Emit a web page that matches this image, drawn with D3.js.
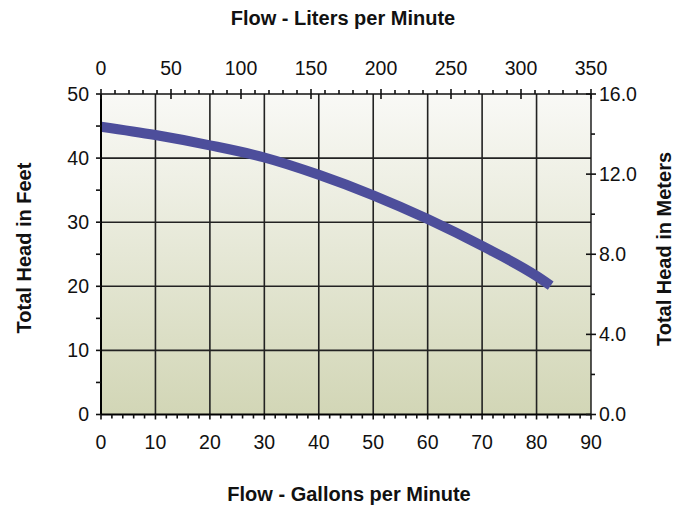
<!DOCTYPE html>
<html>
<head>
<meta charset="utf-8">
<script src="https://cdn.jsdelivr.net/npm/d3@7"></script>
<style>
  html, body { margin: 0; padding: 0; background: #ffffff; }
  svg text { font-family: "Liberation Sans", Helvetica, Arial, sans-serif; fill: #111; }
</style>
</head>
<body>
<svg id="chart" width="686" height="506"></svg>
<script>
// Pump performance curve: head vs flow
const flowGpm = [0, 10, 20, 30, 40, 50, 60, 70, 80, 82.6];
const headFeet = [44.9, 43.6, 42.0, 40.1, 37.4, 34.2, 30.5, 26.3, 21.6, 20.1];

const gpmTicks = [0, 10, 20, 30, 40, 50, 60, 70, 80, 90];
const lpmTicks = [0, 50, 100, 150, 200, 250, 300, 350];
const feetTicks = [0, 10, 20, 30, 40, 50];
const meterTicks = [0, 4, 8, 12, 16];

const svg = d3.select("#chart");
const plotLeft = 101, plotRight = 591, plotTop = 94, plotBottom = 414.5;

const x = d3.scaleLinear().domain([0, 90]).range([plotLeft, plotRight]);
const xTop = d3.scaleLinear().domain([0, 350]).range([plotLeft, plotRight]);
const y = d3.scaleLinear().domain([0, 50]).range([plotBottom, plotTop]);
const yRight = d3.scaleLinear().domain([0, 16]).range([plotBottom, plotTop]);

// background gradient
const defs = svg.append("defs");
const grad = defs.append("linearGradient").attr("id", "bg")
  .attr("x1", 0).attr("y1", 0).attr("x2", 0).attr("y2", 1);
grad.append("stop").attr("offset", "0%").attr("stop-color", "#f9f9f6");
grad.append("stop").attr("offset", "100%").attr("stop-color", "#d2d6b6");

svg.append("rect")
  .attr("x", plotLeft).attr("y", plotTop)
  .attr("width", plotRight - plotLeft).attr("height", plotBottom - plotTop)
  .attr("fill", "url(#bg)");

// grid
const grid = svg.append("g").attr("stroke", "#222").attr("stroke-width", 1.6);
grid.selectAll("line.v").data(gpmTicks.slice(1, -1)).join("line")
  .attr("x1", d => x(d)).attr("x2", d => x(d))
  .attr("y1", plotTop).attr("y2", plotBottom);
grid.selectAll("line.h").data(feetTicks.slice(1, -1)).join("line")
  .attr("x1", plotLeft).attr("x2", plotRight)
  .attr("y1", d => y(d)).attr("y2", d => y(d));

// frame: lighter top/right
svg.append("line").attr("x1", plotLeft).attr("x2", plotRight).attr("y1", plotTop).attr("y2", plotTop)
  .attr("stroke", "#111").attr("stroke-width", 1.4);
svg.append("line").attr("x1", plotRight).attr("x2", plotRight).attr("y1", plotTop).attr("y2", plotBottom)
  .attr("stroke", "#111").attr("stroke-width", 1.4);

// curve
const line = d3.line()
  .x((d, i) => x(flowGpm[i]))
  .y(d => y(d))
  .curve(d3.curveMonotoneX);
svg.append("path")
  .attr("d", line(headFeet))
  .attr("fill", "none")
  .attr("stroke", "#4d4e9b")
  .attr("stroke-width", 10)
  .attr("stroke-linecap", "butt");

// heavy left/bottom axes
svg.append("line").attr("x1", plotLeft).attr("x2", plotLeft).attr("y1", plotTop).attr("y2", plotBottom)
  .attr("stroke", "#000").attr("stroke-width", 2);
svg.append("line").attr("x1", plotLeft).attr("x2", plotRight).attr("y1", plotBottom).attr("y2", plotBottom)
  .attr("stroke", "#000").attr("stroke-width", 2);

const tickColor = "#111";
function ticks(g, data, fn) {
  g.selectAll("line").data(data).join("line").each(function (d) {
    const c = fn(d);
    d3.select(this).attr("x1", c[0]).attr("y1", c[1]).attr("x2", c[2]).attr("y2", c[3]);
  }).attr("stroke", tickColor).attr("stroke-width", 1.6);
}

// bottom ticks
ticks(svg.append("g"), d3.range(0, 91, 2), d => [x(d), plotBottom, x(d), plotBottom + (d % 10 === 0 ? 5 : 4)]);
// top ticks: minor outward, major crossing
ticks(svg.append("g"), d3.range(0, 351, 10).filter(d => d % 50 !== 0), d => [xTop(d), plotTop - 4, xTop(d), plotTop]);
ticks(svg.append("g"), lpmTicks, d => [xTop(d), plotTop - 5, xTop(d), plotTop + 5]);
// left ticks
ticks(svg.append("g"), d3.range(0, 51, 5), d => [plotLeft - 5, y(d), plotLeft, y(d)]);
// right ticks
ticks(svg.append("g"), [2, 6, 10, 14], d => [plotRight, yRight(d), plotRight + 4, yRight(d)]);
ticks(svg.append("g"), meterTicks, d => [plotRight - 5, yRight(d), plotRight + 5, yRight(d)]);

const tickFont = 19.5;
svg.append("g").selectAll("text").data(gpmTicks).join("text")
  .attr("x", d => x(d)).attr("y", 448.5)
  .attr("text-anchor", "middle").attr("font-size", tickFont).text(d => d);
svg.append("g").selectAll("text").data(lpmTicks).join("text")
  .attr("x", d => xTop(d)).attr("y", 75)
  .attr("text-anchor", "middle").attr("font-size", tickFont).text(d => d);
svg.append("g").selectAll("text").data(feetTicks).join("text")
  .attr("x", 89).attr("y", d => y(d)).attr("dy", "0.35em")
  .attr("text-anchor", "end").attr("font-size", tickFont).text(d => d);
svg.append("g").selectAll("text").data(meterTicks).join("text")
  .attr("x", 599).attr("y", d => yRight(d)).attr("dy", "0.35em")
  .attr("text-anchor", "start").attr("font-size", tickFont).text(d => d3.format(".1f")(d));

// axis titles
const titleFont = 20;
svg.append("text").attr("x", 343).attr("y", 25)
  .attr("text-anchor", "middle").attr("font-size", titleFont).attr("font-weight", "bold")
  .text("Flow - Liters per Minute");
svg.append("text").attr("x", 349).attr("y", 501)
  .attr("text-anchor", "middle").attr("font-size", titleFont).attr("font-weight", "bold")
  .text("Flow - Gallons per Minute");
svg.append("text").attr("transform", "translate(31,248) rotate(-90)")
  .attr("text-anchor", "middle").attr("font-size", titleFont).attr("font-weight", "bold")
  .text("Total Head in Feet");
svg.append("text").attr("transform", "translate(671,249) rotate(-90)")
  .attr("text-anchor", "middle").attr("font-size", titleFont).attr("font-weight", "bold")
  .text("Total Head in Meters");
</script>
</body>
</html>
